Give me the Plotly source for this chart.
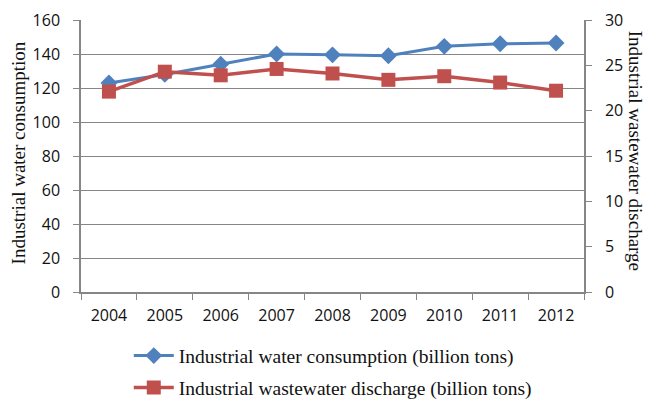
import plotly.graph_objects as go

years = ["2004", "2005", "2006", "2007", "2008", "2009", "2010", "2011", "2012"]
water_consumption = [123, 128, 134, 140, 139.5, 139, 144.5, 146, 146.5]
wastewater_discharge = [22.1, 24.3, 23.9, 24.6, 24.1, 23.4, 23.8, 23.1, 22.2]

BLUE = "#4F81BD"
RED = "#C0504D"
GRID = "#868686"
TICK_FONT = dict(family="Open Sans", size=16, color="#111")
SERIF = "Liberation Serif"
TITLE_FONT = dict(family=SERIF, size=19, color="#111")
LEGEND_FONT = dict(family=SERIF, size=19.5, color="#111")

fig = go.Figure()
fig.add_trace(go.Scatter(
    x=years, y=water_consumption, mode="lines+markers",
    name="Industrial water consumption (billion tons)",
    line=dict(color=BLUE, width=3),
    marker=dict(symbol="diamond", size=13, color=BLUE),
    yaxis="y", legend="legend",
))
fig.add_trace(go.Scatter(
    x=years, y=wastewater_discharge, mode="lines+markers",
    name="Industrial wastewater discharge (billion tons)",
    line=dict(color=RED, width=3.5),
    marker=dict(symbol="square", size=14, color=RED),
    yaxis="y2", legend="legend2",
))

fig.update_layout(
    width=647, height=399,
    margin=dict(l=81, r=63, t=20, b=107, autoexpand=False),
    paper_bgcolor="white", plot_bgcolor="white",
    showlegend=True,
    legend=dict(x=0.095, xanchor="left", y=-0.235, yanchor="middle",
                font=LEGEND_FONT, itemwidth=40, bgcolor="rgba(0,0,0,0)"),
    legend2=dict(x=0.095, xanchor="left", y=-0.352, yanchor="middle",
                 font=LEGEND_FONT, itemwidth=40, bgcolor="rgba(0,0,0,0)"),
    xaxis=dict(
        type="category", showgrid=False, showline=True, linecolor=GRID,
        linewidth=1.5, ticks="outside", tickson="boundaries", ticklen=6,
        tickcolor=GRID, tickfont=TICK_FONT, ticklabelstandoff=8,
        range=[-0.5, 8.5],
    ),
    yaxis=dict(
        range=[0, 160], dtick=20, showgrid=True, gridcolor=GRID, gridwidth=1,
        showline=True, linecolor=GRID, linewidth=1.5, ticks="outside",
        ticklen=6, tickcolor=GRID, tickfont=TICK_FONT, zeroline=False,
        ticklabelstandoff=10,
    ),
    yaxis2=dict(
        range=[0, 30], dtick=5, overlaying="y", side="right", showgrid=False,
        showline=True, linecolor=GRID, linewidth=1.5, ticks="outside",
        ticklen=6, tickcolor=GRID, tickfont=TICK_FONT, zeroline=False,
        ticklabelstandoff=10,
    ),
    annotations=[
        dict(text="Industrial water consumption", xref="paper", yref="paper",
             x=-0.125, y=0.51, textangle=-90, showarrow=False,
             font=TITLE_FONT, xanchor="center", yanchor="middle"),
        dict(text="Industrial wastewater discharge", xref="paper", yref="paper",
             x=1.103, y=0.52, textangle=90, showarrow=False,
             font=TITLE_FONT, xanchor="center", yanchor="middle"),
    ],
)

fig.write_html("out.html")
